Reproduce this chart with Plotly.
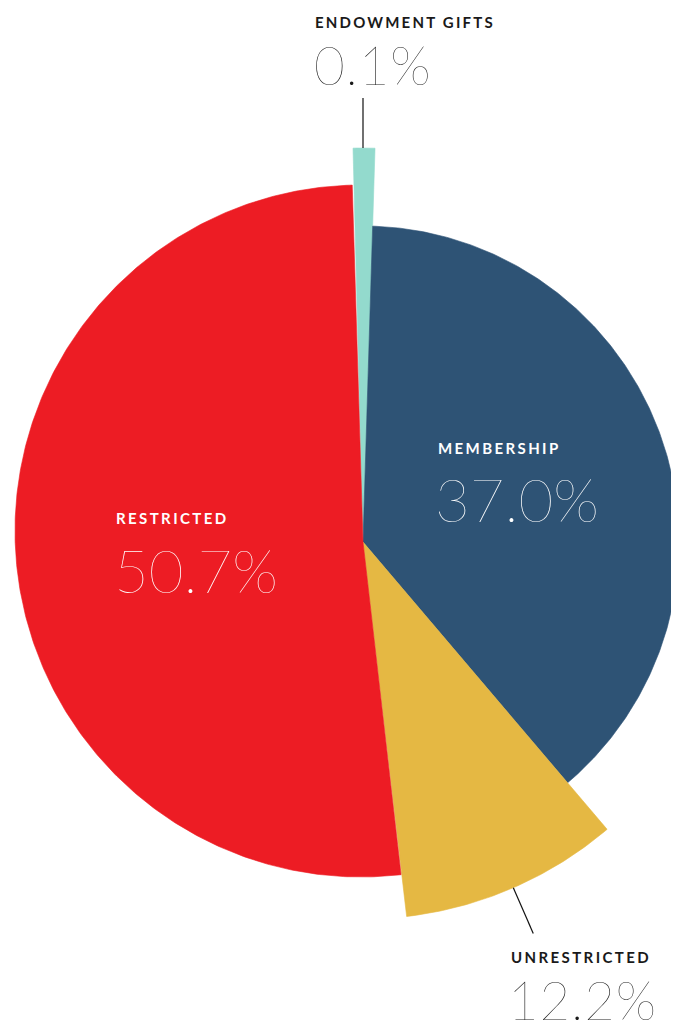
import math
import plotly.graph_objects as go

# ---- data ----
categories = ["ENDOWMENT GIFTS", "MEMBERSHIP", "UNRESTRICTED", "RESTRICTED"]
percent = [0.1, 37.0, 12.2, 50.7]
# angular extent (degrees) and radius (px) of each wedge as drawn
span_deg = [3.2, 137.9, 33.7, 185.2]
radius = [394, 316, 377, 346]
colors = ["#93DACD", "#2E5375", "#E5B843", "#ED1C24"]

# ---- layout constants ----
PAGE_OFF = 8                 # browser body margin
W, H = 679 - PAGE_OFF, 1024 - PAGE_OFF
CX, CY = 363, 542            # pie centre (viewport px)
START_DEG = -1.45            # first wedge starts just left of 12 o'clock
LEADER = 50                  # leader line length beyond the wedge
ARC_SHIFT = {3: (-2, -11)}   # the red wedge's outer arc is drawn slightly off-centre

def wedge(a0, a1, r, shift=(0, 0)):
    n = max(4, int(abs(a1 - a0) * 2))
    xs, ys = [CX], [CY]
    for k in range(n + 1):
        a = math.radians(a0 + (a1 - a0) * k / n)
        xs.append(CX + shift[0] + r * math.sin(a))
        ys.append(CY + shift[1] - r * math.cos(a))
    xs.append(CX)
    ys.append(CY)
    return xs, ys

fig = go.Figure()
acc = START_DEG
mids = []
for i, (name, s, r, c) in enumerate(zip(categories, span_deg, radius, colors)):
    xs, ys = wedge(acc, acc + s, r, ARC_SHIFT.get(i, (0, 0)))
    fig.add_trace(go.Scatter(
        x=xs, y=ys, mode="lines", fill="toself", fillcolor=c,
        line=dict(color=c, width=0.6), name=name,
        hoverinfo="skip", showlegend=False,
    ))
    mids.append(acc + s / 2)
    acc += s

# leader lines for the outside labels (endowment, unrestricted)
for idx in (0, 2):
    a = math.radians(mids[idx]) if idx == 2 else 0.0
    r0, r1 = radius[idx], radius[idx] + LEADER
    fig.add_trace(go.Scatter(
        x=[CX + r0 * math.sin(a), CX + r1 * math.sin(a)],
        y=[CY - r0 * math.cos(a), CY - r1 * math.cos(a)],
        mode="lines", line=dict(color="#111111", width=1.2),
        hoverinfo="skip", showlegend=False,
    ))

fig.update_layout(
    width=W, height=H,
    margin=dict(l=0, r=0, t=0, b=0),
    paper_bgcolor="white", plot_bgcolor="white",
    xaxis=dict(range=[PAGE_OFF, 679], visible=False, fixedrange=True),
    yaxis=dict(range=[1024, PAGE_OFF], visible=False, fixedrange=True),
)

LABEL_FONT = dict(family="Lato", size=15, weight=700)
NUM_BIG = dict(family="Lato", size=60, weight=200)
NUM_SMALL = dict(family="Lato", size=53, weight=200)

def label(text, x, y, color, font, spacing):
    fig.add_annotation(
        x=x, y=y, xref="x", yref="y", xanchor="left", yanchor="middle",
        text=f'<span style="letter-spacing:{spacing}px">{text}</span>' if spacing else text,
        showarrow=False, font=dict(color=color, **font),
    )

pct = [f"{p:.1f}%" for p in percent]
# endowment (outside top)
label(categories[0], 313, 22, "#1a1a1a", LABEL_FONT, 2.2)
label(pct[0], 312, 64, "#1a1a1a", NUM_SMALL, 0.8)
# membership (inside)
label(categories[1], 436, 448, "white", LABEL_FONT, 2.4)
label(pct[1], 433, 499, "white", NUM_BIG, 0)
# restricted (inside)
label(categories[3], 114, 518, "white", LABEL_FONT, 2.4)
label(pct[3], 112, 570, "white", NUM_BIG, 0)
# unrestricted (outside bottom)
label(categories[2], 509, 957, "#1a1a1a", LABEL_FONT, 2.4)
label(pct[2], 506, 999, "#1a1a1a", NUM_SMALL, 0.8)

fig.write_html("out.html")
